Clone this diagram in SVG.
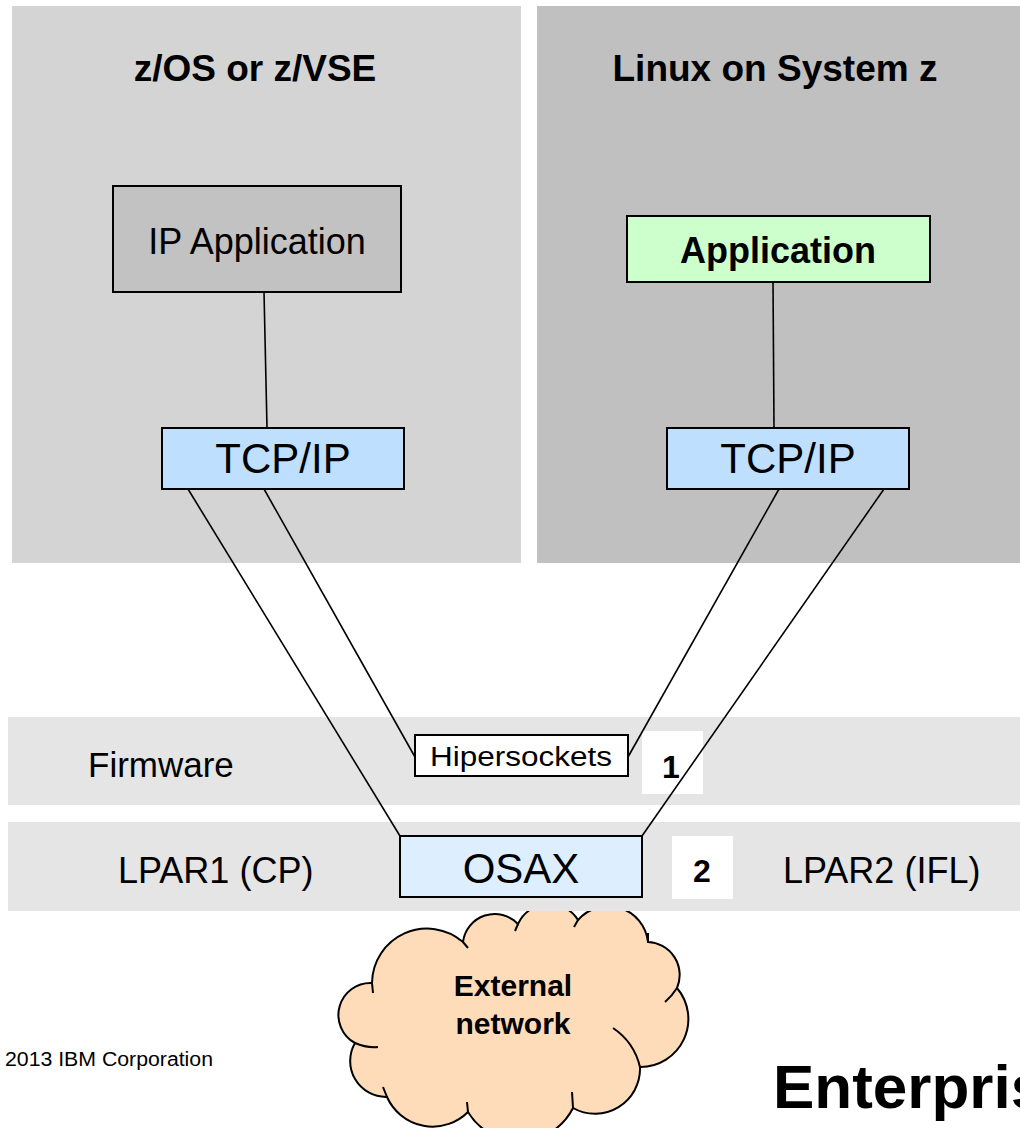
<svg xmlns="http://www.w3.org/2000/svg" width="1020" height="1128" viewBox="0 0 1020 1128">
<style>
  text { font-family: "Liberation Sans", Arial, sans-serif; fill: #000; }
  .b { font-weight: bold; }
  .box { stroke: #000; stroke-width: 2; }
  .wire { stroke: #000; stroke-width: 1.6; fill: none; }
  .hook { stroke: #000; stroke-width: 2; fill: none; }
</style>
<rect width="1020" height="1128" fill="#ffffff"/>

<g id="panel-zos">
  <rect x="12" y="6" width="509" height="557" fill="#d4d4d4"/>
  <text class="b" x="255" y="81" font-size="37" text-anchor="middle">z/OS or z/VSE</text>
</g>
<g id="panel-linux">
  <rect x="537" y="6" width="483" height="557" fill="#c0c0c0"/>
  <text class="b" x="775" y="81" font-size="37" text-anchor="middle" textLength="325" lengthAdjust="spacingAndGlyphs">Linux on System z</text>
</g>

<g id="cloud">
  <path d="M355 1043 A32 32 0 0 1 372 983 A55 55 0 0 1 463 942 A32 32 0 0 1 518 924 A34 34 0 0 1 578 920 A40 40 0 0 1 648 942 A33 33 0 0 1 677 988 A48 48 0 0 1 640 1067 A45 45 0 0 1 573 1108 A60 60 0 0 1 468 1112 A50 50 0 0 1 387 1097 A36 36 0 0 1 355 1043 Z" fill="#ffdcb9" stroke="#000" stroke-width="2"/>
  <path class="hook" d="M355 1043 Q366 1048 378 1047"/>
  <path class="hook" d="M372 983 L373 993"/>
  <path class="hook" d="M463 942 L468 948"/>
  <path class="hook" d="M518 924 L515 931"/>
  <path class="hook" d="M578 920 L574 927"/>
  <path class="hook" d="M648 933 L648 942"/>
  <path class="hook" d="M677 988 Q672 996 665 1002"/>
  <path class="hook" d="M613 1028 Q634 1042 640 1067"/>
  <path class="hook" d="M572 1092 L573 1108"/>
  <path class="hook" d="M467 1102 L468 1112"/>
  <path class="hook" d="M383 1087 L387 1097"/>
  <text class="b" x="513" y="996" font-size="30" text-anchor="middle">External</text>
  <text class="b" x="513" y="1034" font-size="30" text-anchor="middle">network</text>
</g>

<g id="band-firmware">
  <rect x="8" y="717" width="1012" height="88" fill="#e5e5e5"/>
  <text x="88" y="777" font-size="35">Firmware</text>
</g>
<g id="band-lpar">
  <rect x="8" y="822" width="1012" height="89" fill="#e5e5e5"/>
  <text x="118" y="883" font-size="36">LPAR1 (CP)</text>
  <text x="783" y="883" font-size="36">LPAR2 (IFL)</text>
</g>

<g id="ip-application">
  <rect class="box" x="113" y="186" width="288" height="106" fill="#c2c2c2"/>
  <text x="257" y="254" font-size="36" text-anchor="middle">IP Application</text>
</g>
<g id="application">
  <rect class="box" x="627" y="216" width="303" height="66" fill="#ccffcc"/>
  <text class="b" x="778" y="263" font-size="36" text-anchor="middle">Application</text>
</g>
<g id="tcpip-left">
  <rect class="box" x="162" y="428" width="242" height="61" fill="#bfdfff"/>
  <text x="283" y="473" font-size="42" text-anchor="middle">TCP/IP</text>
</g>
<g id="tcpip-right">
  <rect class="box" x="667" y="428" width="242" height="61" fill="#bfdfff"/>
  <text x="788" y="473" font-size="42" text-anchor="middle">TCP/IP</text>
</g>
<g id="hipersockets">
  <rect class="box" x="415" y="735" width="213" height="41" fill="#ffffff"/>
  <text x="521" y="766" font-size="27" text-anchor="middle" textLength="182" lengthAdjust="spacingAndGlyphs">Hipersockets</text>
</g>
<g id="label-1">
  <rect x="642" y="731" width="61" height="63" fill="#ffffff"/>
  <text class="b" x="671" y="778" font-size="32" text-anchor="middle">1</text>
</g>
<g id="osax">
  <rect class="box" x="400" y="836" width="242" height="61" fill="#ddeeff"/>
  <text x="521" y="883" font-size="42" text-anchor="middle">OSAX</text>
</g>
<g id="label-2">
  <rect x="672" y="836" width="61" height="63" fill="#ffffff"/>
  <text class="b" x="702" y="882" font-size="32" text-anchor="middle">2</text>
</g>

<g id="connectors">
  <line class="wire" x1="264" y1="292" x2="267" y2="428"/>
  <line class="wire" x1="773" y1="282" x2="774" y2="428"/>
  <line class="wire" x1="188" y1="489" x2="400" y2="836"/>
  <line class="wire" x1="264" y1="489" x2="415" y2="757"/>
  <line class="wire" x1="779" y1="489" x2="628" y2="757"/>
  <line class="wire" x1="884" y1="489" x2="642" y2="836"/>
</g>

<g id="footer">
  <text x="5" y="1066" font-size="20" textLength="208" lengthAdjust="spacingAndGlyphs">2013 IBM Corporation</text>
  <text class="b" x="773" y="1108" font-size="62">Enterprise</text>
</g>
</svg>
